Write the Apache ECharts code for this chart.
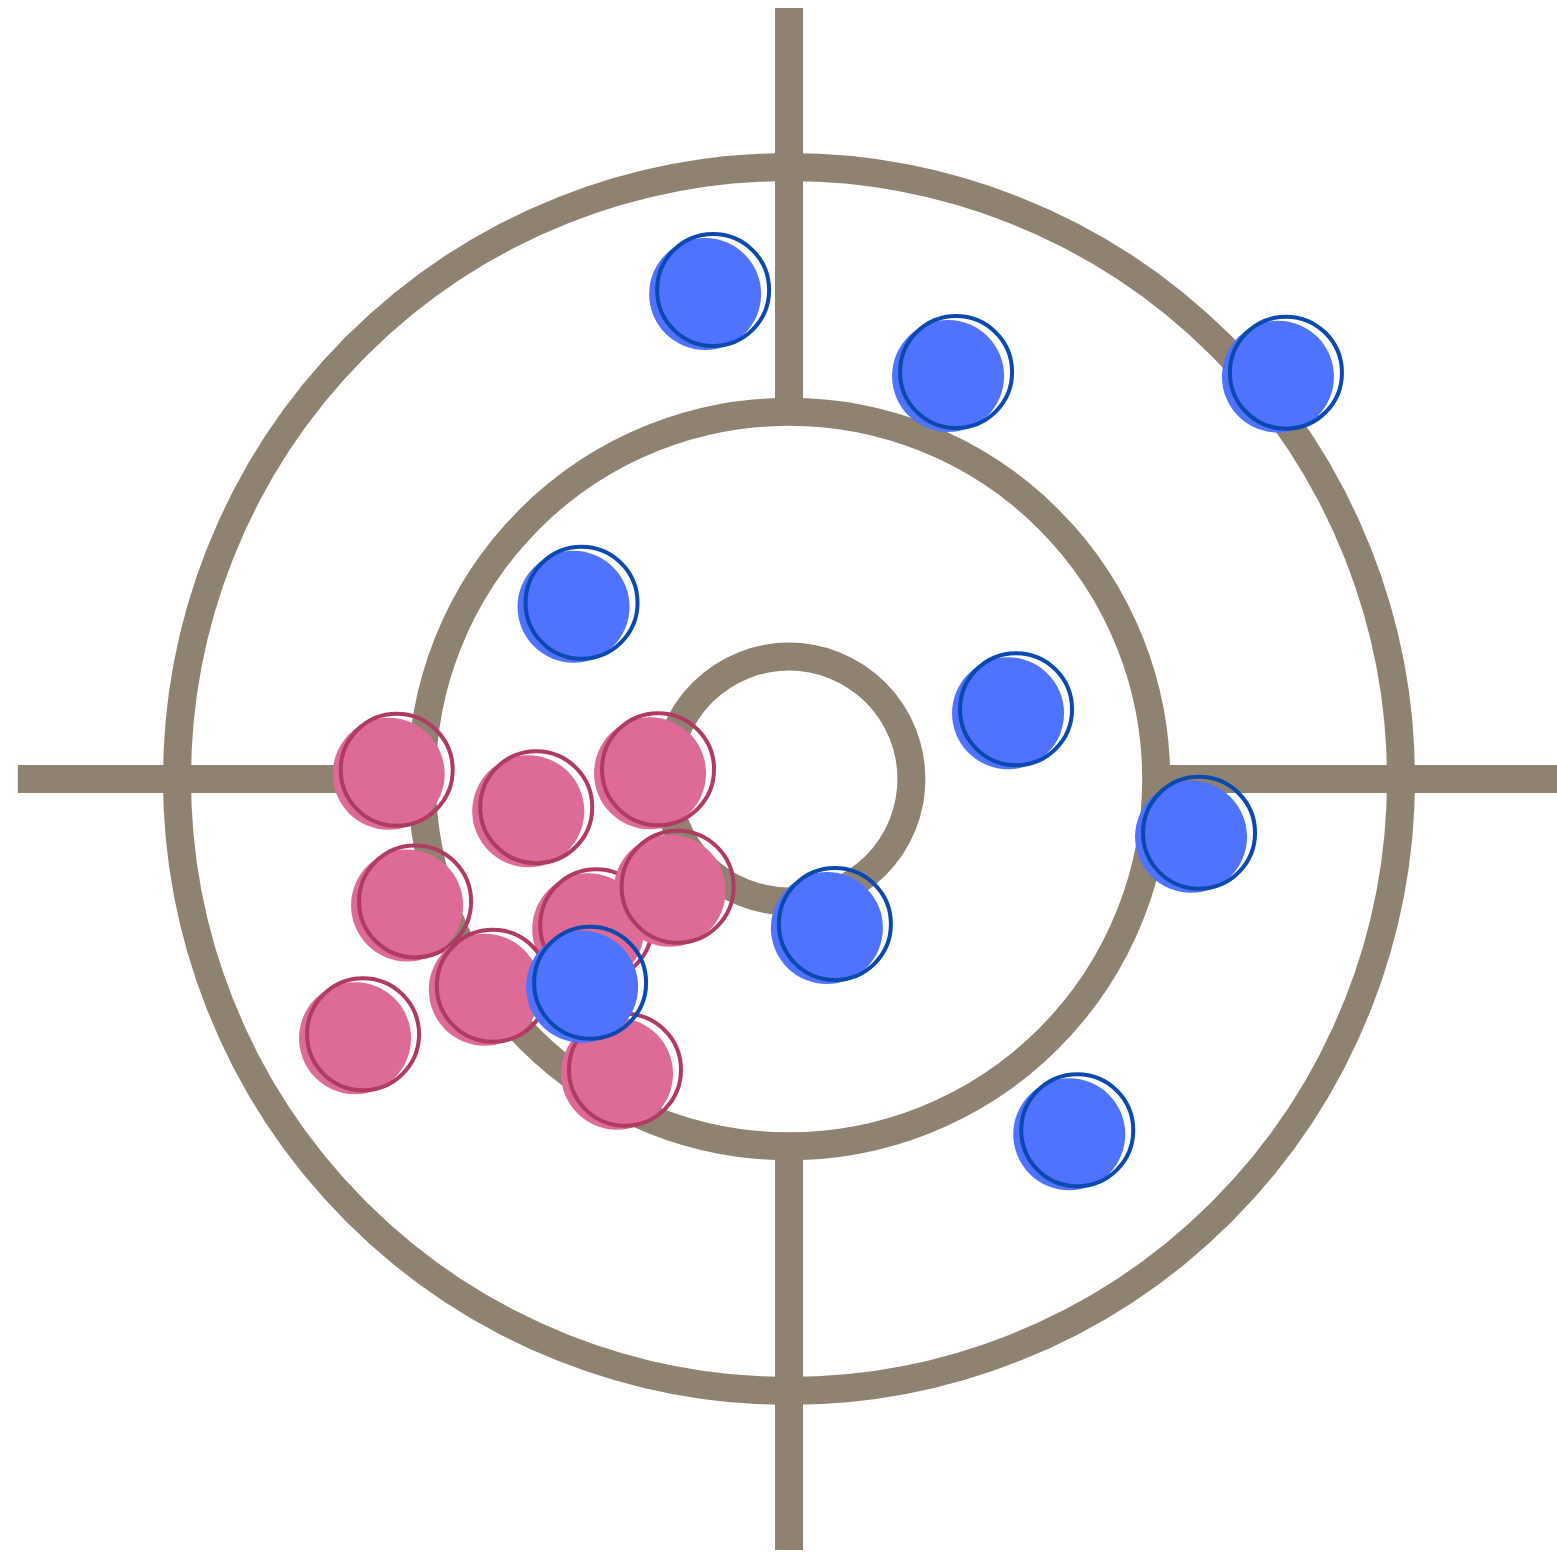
<!DOCTYPE html>
<html>
<head>
<meta charset="utf-8">
<script src="https://cdn.jsdelivr.net/npm/echarts@6/dist/echarts.min.js"></script>
<style>
  html, body { margin: 0; padding: 0; background: #fff; }
  #target { width: 1557px; height: 1557px; }
</style>
</head>
<body>
<div id="target"></div>
<script>
  // ring radii (outer ring = 1)
  var ringRadii = [0.2, 0.6, 1.0];
  // crosshair arms, from the middle ring out to the edge
  var armInner = 0.6, armOuter = 1.26;

  // hits, [x, y]
  var pinkHits = [
    [-0.641, 0.015], [-0.413, -0.046], [-0.214, 0.016],
    [-0.611, -0.200], [-0.315, -0.239], [-0.182, -0.176],
    [-0.484, -0.338], [-0.696, -0.417], [-0.268, -0.475]
  ];
  var blueHits = [
    [-0.124, 0.799], [0.273, 0.665], [0.812, 0.664],
    [-0.339, 0.288], [0.371, 0.114], [0.670, -0.088],
    [0.075, -0.237], [-0.325, -0.333], [0.471, -0.574]
  ];

  var ringColor = '#8f8270';

  function hitRenderer(fill, stroke) {
    return function (params, api) {
      var p = api.coord([api.value(0), api.value(1)]);
      return {
        type: 'group',
        children: [
          { type: 'circle', shape: { cx: p[0] - 8, cy: p[1] + 4, r: 56 }, style: { fill: fill } },
          { type: 'circle', shape: { cx: p[0], cy: p[1], r: 56 }, style: { fill: 'none', stroke: stroke, lineWidth: 4 } }
        ]
      };
    };
  }

  var chart = echarts.init(document.getElementById('target'));
  var option = {
    animation: false,
    backgroundColor: '#ffffff',
    grid: { left: 24, top: 14, width: 1530, height: 1530 },
    xAxis: { type: 'value', min: -1.25, max: 1.25, show: false },
    yAxis: { type: 'value', min: -1.25, max: 1.25, show: false },
    series: [
      {
        type: 'custom',
        name: 'rings',
        clip: false,
        silent: true,
        data: ringRadii.map(function (r) { return [0, 0, r]; }),
        renderItem: function (params, api) {
          var c = api.coord([api.value(0), api.value(1)]);
          var r = api.size([api.value(2), 0])[0];
          return {
            type: 'circle',
            shape: { cx: c[0], cy: c[1], r: r },
            style: { fill: 'none', stroke: ringColor, lineWidth: 28 }
          };
        }
      },
      {
        type: 'lines',
        name: 'crosshair',
        coordinateSystem: 'cartesian2d',
        silent: true,
        clip: false,
        lineStyle: { color: ringColor, width: 28, opacity: 1, cap: 'butt' },
        data: [
          { coords: [[0, armOuter], [0, armInner]] },
          { coords: [[0, -armInner], [0, -armOuter]] },
          { coords: [[-armOuter, 0], [-armInner, 0]] },
          { coords: [[armInner, 0], [armOuter, 0]] }
        ]
      },
      {
        type: 'custom',
        name: 'pink',
        clip: false,
        data: pinkHits,
        renderItem: hitRenderer('#de6a98', '#b03a62')
      },
      {
        type: 'custom',
        name: 'blue',
        clip: false,
        data: blueHits,
        renderItem: hitRenderer('#5073ff', '#0a4ab0')
      }
    ]
  };
  chart.setOption(option);
</script>
</body>
</html>
